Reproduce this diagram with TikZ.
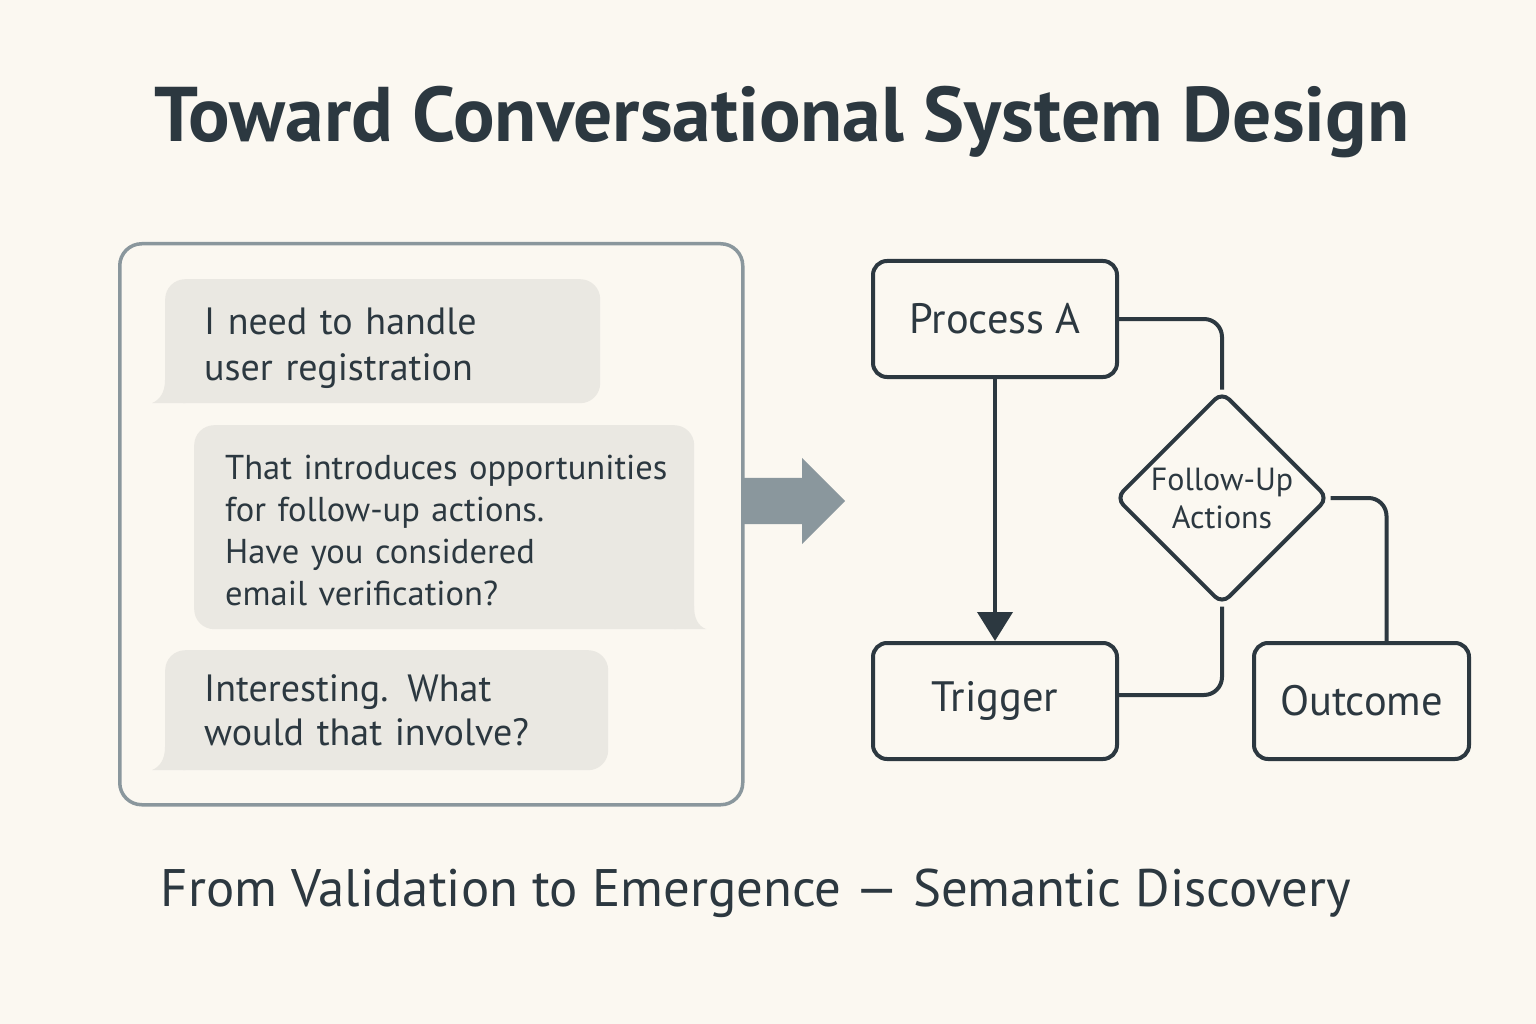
\documentclass[tikz,border=0pt]{standalone}
\usepackage{fontspec}
\setmainfont{PT Sans}
\usetikzlibrary{shapes.geometric,shapes.arrows,arrows.meta,positioning}

\definecolor{paper}{HTML}{FBF8F1}
\definecolor{ink}{HTML}{2C3840}
\definecolor{slate}{HTML}{8A979D}
\definecolor{bubblefill}{HTML}{EAE8E2}

\tikzset{
	panel/.style={draw=slate, line width=3.5pt, rounded corners=22pt, inner sep=0pt},
	bubble/.style={fill=bubblefill, rounded corners=20pt, text=ink, align=left, anchor=north west, inner ysep=0pt},
	procbox/.style={draw=ink, line width=4pt, rounded corners=14pt, minimum width=244pt, minimum height=116pt, text=ink, font=\fontsize{42.5}{48}\selectfont},
	decision/.style={diamond, draw=ink, line width=4pt, rounded corners=10pt, minimum width=213pt, minimum height=213pt, inner sep=0pt, align=center, text=ink, font=\fontsize{32}{38}\selectfont},
	link/.style={draw=ink, line width=4pt, rounded corners=18pt},
	bigarrow/.style={single arrow, fill=slate, inner sep=0pt, text height=46pt, text depth=0pt, minimum height=104pt, single arrow head extend=20pt},
}

\begin{document}
\begin{tikzpicture}[x=1pt, y=-1pt]
	\fill[paper] (0,0) rectangle (1536,1024);
	\useasboundingbox (0,0) rectangle (1536,1024);

	\node[text=ink, font=\fontsize{77.5}{82}\selectfont\bfseries] (title) at (782,122) {Toward Conversational System Design};

	% chat panel
	\node[panel, minimum width=623pt, minimum height=561pt, anchor=north west] (chat) at (118,242) {};
	\node[bubble, font=\fontsize{38}{46}\selectfont, inner xsep=39pt, text width=357pt, minimum height=124pt] (b1) at (165,279) {\rule{0pt}{40pt}I need to handle\\user registration};
	\node[bubble, font=\fontsize{34.5}{42}\selectfont, inner xsep=31pt, text width=438pt, minimum height=204pt] (b2) at (194,425) {\rule{0pt}{32pt}\mbox{That introduces opportunities}\\for follow-up actions.\\Have you considered\\email verification?};
	\node[bubble, font=\fontsize{38}{44}\selectfont, inner xsep=39pt, text width=365pt, minimum height=120pt] (b3) at (165,650) {Interesting. What\\would that involve?};
	\fill[bubblefill] (185,403) -- (152,403) .. controls (160,400) and (165,392) .. (165,380) -- cycle;
	\fill[bubblefill] (674,629) -- (706,629) .. controls (698,626) and (694,618) .. (694,606) -- cycle;
	\fill[bubblefill] (185,770) -- (152,770) .. controls (160,767) and (165,759) .. (165,747) -- cycle;

	\node[bigarrow, anchor=tail] (shift) at (741,501) {};

	% flow
	\node[procbox] (proc) at (995,319) {Process A};
	\node[procbox, below=262pt of proc] (trig) {Trigger};
	\node[decision] (fu) at (1222,498) {Follow-Up\\Actions};
	\node[procbox, minimum width=215pt] (out) at (1361.5,701) {Outcome};

	\draw[link] (proc.east) -| (fu.north);
	\draw[link] (fu.south) |- ([yshift=6pt]trig.east);
	\draw[link] (fu.east) -| ([xshift=25pt]out.north);
	\draw[link, -{Triangle[length=29pt, width=35pt]}] (proc.south) -- (trig.north);

	\node[text=ink, font=\fontsize{52.8}{58}\selectfont] (sub) at (756,893) {From Validation to Emergence — Semantic Discovery};
\end{tikzpicture}
\end{document}
